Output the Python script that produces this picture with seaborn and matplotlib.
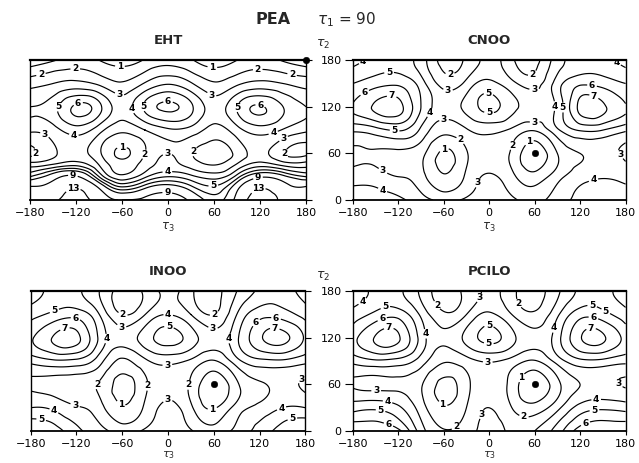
import numpy as np
import pandas as pd
import matplotlib
matplotlib.use("Agg")
import matplotlib.pyplot as plt
import matplotlib.tri as mtri
import seaborn as sns

# ---------------- data (kcal/mol) ----------------
tau3 = [-180, -150, -120, -90, -60, -30, 0, 30, 60, 90, 120, 150, 180]
tau2_eht = [0, 15, 30, 45, 60, 90, 120, 150, 180]
tau2_std = [0, 30, 60, 90, 120, 150, 180]

eht_energy = [
    [11, 12, 15, 11, 9, 9.5, 10.5, 8.5, 6.5, 10, 15, 12, 11],
    [9.5, 10.5, 13, 9, 5.5, 7, 8, 6.5, 5.3, 8.5, 13, 10.5, 9.5],
    [6, 8, 9.3, 5, 2.3, 3.8, 5, 4.3, 3.6, 5.5, 8.7, 7.5, 6],
    [3.6, 4.2, 4.8, 3, 1.4, 2.5, 3.3, 2.6, 2, 3.2, 4.6, 3.8, 3.6],
    [1.8, 2.8, 3.4, 2.2, 0.8, 2, 3, 2.1, 1.5, 2.3, 3.3, 2.1, 1.8],
    [3.2, 3.6, 4.5, 3.4, 2.2, 3, 3.8, 3.6, 2.6, 3.6, 4.5, 3.9, 3.2],
    [4, 4.6, 6.2, 5.3, 3.6, 5.2, 6.2, 5.2, 3.6, 5, 6.1, 5, 4],
    [2.6, 3.0, 3.3, 2.8, 2.1, 3.1, 3.9, 3.1, 2.1, 2.8, 3.3, 3.0, 2.6],
    [0.3, 0.9, 1.5, 1.0, 0.5, 1.1, 1.6, 1.1, 0.5, 1.0, 1.5, 0.9, 0.3],
]
cnoo_energy = [
    [5, 4.8, 4.3, 3.4, 2.8, 3.2, 3.8, 3.2, 2.7, 3.5, 4.3, 4.6, 4.6],
    [3.4, 3.4, 3.0, 2.4, 1.1, 2.2, 3.1, 2.3, 1.4, 2.6, 3.6, 3.9, 3.6],
    [2.85, 2.9, 2.8, 2.3, 0.8, 1.9, 2.6, 1.8, 0.4, 2, 3, 3.2, 2.85],
    [4.2, 4.6, 5.1, 3.8, 2.3, 2.9, 3.3, 2.8, 2.1, 3.8, 5.1, 5.0, 4.2],
    [6.1, 7.2, 7.4, 5, 3.6, 4.3, 5.3, 4.3, 3.6, 4.3, 7.3, 7.2, 6.1],
    [5, 5.6, 5.8, 4.5, 2.6, 3.3, 4.3, 3.3, 2.6, 4.5, 5.8, 5.6, 5],
    [3.7, 4.3, 4.6, 3.5, 1.6, 2.2, 3.3, 2.2, 1.6, 3.5, 4.6, 4.3, 3.7],
]
inoo_energy = [
    [6, 5.5, 4.3, 3.4, 2.6, 3.2, 3.9, 3.1, 2.5, 3.3, 4.4, 5.5, 6],
    [4, 3.8, 3.1, 2.4, 1.1, 2.2, 3.2, 2.2, 0.9, 2.4, 3.3, 4, 4],
    [2.85, 2.6, 2.4, 1.9, 0.6, 1.8, 2.7, 1.8, 0.3, 1.8, 2.9, 3.15, 2.85],
    [4.3, 4.8, 4.7, 3.4, 1.8, 2.8, 3.3, 2.8, 1.9, 3.6, 4.7, 4.8, 4.3],
    [5.8, 7.1, 7.3, 4.8, 3.4, 4.5, 5.4, 4.5, 3.4, 4.8, 6.8, 7.3, 5.8],
    [4.6, 5.3, 5.6, 4, 2.0, 3, 4.0, 3, 2.0, 4, 5.6, 5.5, 4.6],
    [3.5, 4.3, 4.2, 3, 1.6, 2.2, 3.3, 2.2, 1.6, 3, 4.2, 4.5, 3.5],
]
pcilo_energy = [
    [7, 6.8, 6.3, 3.5, 2.1, 2.5, 3.4, 2.8, 3, 4.5, 6.5, 6.8, 7],
    [4.6, 4.8, 4.2, 2.5, 1.1, 2, 3, 2, 1.4, 2.7, 4.4, 4.8, 4.6],
    [2.9, 2.7, 2.8, 2.1, 0.7, 1.7, 2.6, 1.6, 0.3, 1.7, 3, 3.2, 2.9],
    [4.3, 4.8, 4.6, 3.5, 2.1, 2.6, 3.1, 2.6, 1.9, 3.4, 4.7, 4.7, 4.3],
    [5.6, 7.1, 7.15, 4.6, 3.2, 4.3, 5.3, 4.3, 3.3, 4.6, 6.9, 7.15, 5.6],
    [4.4, 5.3, 5.6, 3.8, 2.2, 3, 4.2, 3, 2.2, 3.8, 5.6, 5.4, 4.4],
    [3.6, 4.2, 4.2, 2.8, 1.5, 2.3, 3.2, 2.3, 1.6, 2.8, 4.2, 4.3, 3.6],
]

levels_eht = [1, 2, 3, 4, 5, 6, 7, 9, 13]
levels_std = [1, 2, 3, 4, 5, 6, 7]

x_ticks = [-180, -120, -60, 0, 60, 120, 180]
x_tick_labels = ["\u2212180", "\u2212120", "\u221260", "0", "60", "120", "180"]
y_ticks = [0, 60, 120, 180]
y_tick_labels = ["0", "60", "120", "180"]

panel_names = ["EHT", "CNOO", "INOO", "PCILO"]
dot_tau3 = [180, 60, 60, 60]
dot_tau2 = [180, 60, 60, 60]

# label anchor points (where the numbers sit on the original)
labels_eht = [(-167, 167), (-121, 167), (-63, 165), (57, 163), (117, 165), (163, 168),
              (-63, 138), (57, 136), (-117, 123), (-143, 120), (-45, 118), (-26, 120),
              (0, 127), (87, 120), (120, 121), (-124, 73), (137, 87), (150, 80),
              (-163, 80), (-170, 60), (-60, 65), (-31, 59), (-1, 62), (38, 60),
              (150, 60), (-1, 39), (59, 19), (-124, 32), (117, 30), (-1, 10),
              (-124, 15), (117, 15)]
labels_cnoo = [(-162, 173), (-132, 164), (-162, 134), (-129, 124), (-125, 86), (-74, 110),
               (-59, 97), (-51, 155), (-55, 136), (0, 145), (0, 122), (60, 158), (60, 138),
               (60, 102), (86, 121), (99, 119), (135, 142), (135, 124), (163, 170),
               (-61, 72), (-39, 76), (20, 74), (52, 76), (-136, 45), (-138, 19),
               (-15, 22), (165, 54), (137, 28)]
labels_inoo = [(-151, 160), (-122, 141), (-133, 124), (-77, 119), (-59, 151), (-61, 134),
               (0, 148), (0, 125), (59, 154), (59, 134), (80, 119), (142, 148), (120, 135),
               (139, 124), (0, 73), (-98, 62), (-21, 58), (-61, 36), (24, 60), (59, 25),
               (0, 38), (-120, 39), (-152, 21), (-166, 16), (172, 70), (148, 31), (163, 15)]
labels_pcilo = [(-162, 160), (-136, 156), (-140, 141), (-132, 124), (-72, 160), (-2, 166),
                (38, 164), (0, 141), (0, 122), (-79, 126), (80, 134), (135, 156), (157, 160),
                (137, 143), (135, 124), (-2, 81), (42, 69), (-61, 35), (-48, 11), (47, 26),
                (-17, 24), (-149, 48), (-134, 38), (-143, 28), (-132, 11), (171, 61),
                (141, 48), (139, 26), (126, 12)]

# ---------------- style ----------------
sns.set_theme(style="ticks")
plt.rcParams['font.family'] = ['DejaVu Sans']
plt.rcParams['axes.edgecolor'] = 'black'
plt.rcParams['xtick.color'] = 'black'
plt.rcParams['ytick.color'] = 'black'

fig = plt.figure(figsize=(6.39, 4.63), dpi=100)

panels = [
    ("EHT", [0.047, 0.568, 0.432, 0.302], tau2_eht, eht_energy, levels_eht, labels_eht, "left"),
    ("CNOO", [0.552, 0.568, 0.427, 0.302], tau2_std, cnoo_energy, levels_std, labels_cnoo, "right"),
    ("INOO", [0.048, 0.069, 0.430, 0.302], tau2_std, inoo_energy, levels_std, labels_inoo, "left"),
    ("PCILO", [0.552, 0.069, 0.427, 0.302], tau2_std, pcilo_energy, levels_std, labels_pcilo, "right"),
]

for i, (name, rect, t2, energy, levels, lab_pos, side) in enumerate(panels):
    ax = fig.add_axes(rect)
    T3, T2 = np.meshgrid(np.asarray(tau3, float), np.asarray(t2, float))
    Z = np.asarray(energy, float)
    tri = mtri.Triangulation(T3.ravel(), T2.ravel())
    refiner = mtri.UniformTriRefiner(tri)
    tri_f, z_f = refiner.refine_field(Z.ravel(), subdiv=4)
    cs = ax.tricontour(tri_f, z_f, levels=levels, colors='black', linewidths=0.85)
    ax.set_xlim(-180, 180)
    ax.set_ylim(0, 180)
    texts = ax.clabel(cs, manual=lab_pos, inline=True, inline_spacing=2, fontsize=6.5,
                      fmt=lambda v: f"{v:g}")
    for t in texts:
        t.set_rotation(0)
        t.set_fontweight('bold')
    dots = pd.DataFrame({"tau3": [dot_tau3[i]], "tau2": [dot_tau2[i]]})
    sns.scatterplot(data=dots, x="tau3", y="tau2", ax=ax, color="black", s=22,
                    edgecolor="black", zorder=5, clip_on=False, legend=False)
    ax.set_xlabel("")
    ax.set_ylabel("")
    ax.set_xticks(x_ticks)
    ax.set_xticklabels(x_tick_labels, fontsize=8)
    ax.set_yticks(y_ticks)
    ax.tick_params(axis='x', direction='out', length=3, width=0.8, pad=3)
    if side == "left":
        ax.yaxis.tick_right()
        ax.tick_params(axis='y', direction='out', length=4, width=0.8, labelright=False)
    else:
        ax.yaxis.tick_left()
        ax.set_yticklabels(y_tick_labels, fontsize=8)
        ax.tick_params(axis='y', direction='out', length=6, width=0.8, pad=2)
    for sp in ax.spines.values():
        sp.set_visible(True)
        sp.set_linewidth(1.0)
        sp.set_color('black')
    ax.spines['top'].set_linewidth(1.6)
    ax.spines['bottom'].set_linewidth(1.3)
    ax.set_facecolor('white')
    cx = rect[0] + rect[2] / 2
    fig.text(cx, rect[1] + rect[3] + 0.028, name,
             ha='center', va='bottom', fontsize=9.5, fontweight='bold')
    if rect[1] > 0.5:
        fig.text(cx, rect[1] - 0.045, r"$\tau_3$", ha='center', va='top', fontsize=8.5)
    else:
        fig.text(cx, 0.004, r"$\tau_3$", ha='center', va='bottom', fontsize=8)

# shared tau2 labels and global title
fig.text(0.506, 0.905, r"$\tau_2$", ha='center', va='center', fontsize=9)
fig.text(0.506, 0.402, r"$\tau_2$", ha='center', va='center', fontsize=9)
fig.text(0.428, 0.957, "PEA", ha='center', va='center', fontsize=11.5, fontweight='bold')
fig.text(0.542, 0.957, r"$\tau_1$ = 90", ha='center', va='center', fontsize=11)

fig.savefig("out.png", dpi=100, facecolor='white')
